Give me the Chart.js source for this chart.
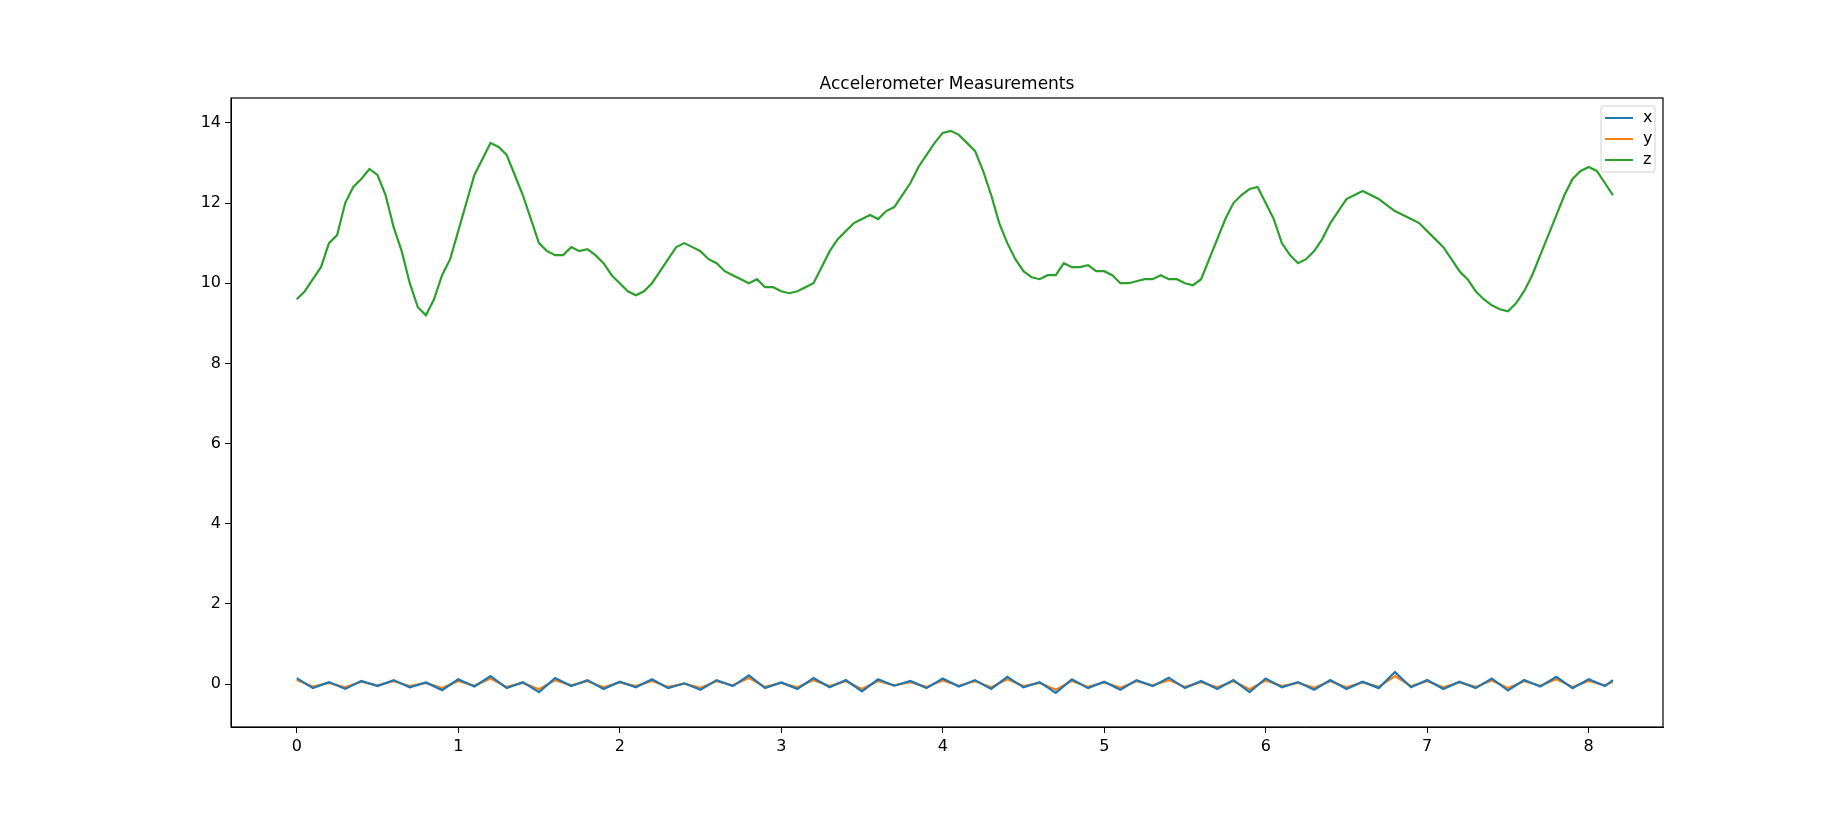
<!DOCTYPE html>
<html><head><meta charset="utf-8">
<script src="https://cdn.jsdelivr.net/npm/chart.js@4/dist/chart.umd.min.js"></script>
<style>html,body{margin:0;padding:0;background:#fff}#wrap{width:1848px;height:817px}</style>
</head><body><div id="wrap"><canvas id="c"></canvas></div>
<script>
const titleText = "Accelerometer Measurements";
const xTicks = [0,1,2,3,4,5,6,7,8];
const yTicks = [0,2,4,6,8,10,12,14];
const zTime = [];
const zValues = [9.6,9.8,10.1,10.4,11.0,11.2,12.0,12.4,12.6,12.85,12.7,12.2,11.4,10.8,10.0,9.4,9.2,9.6,10.2,10.6,
11.3,12.0,12.7,13.1,13.5,13.4,13.2,12.7,12.2,11.6,11.0,10.8,10.7,10.7,10.9,10.8,10.85,10.7,10.5,10.2,
10.0,9.8,9.7,9.8,10.0,10.3,10.6,10.9,11.0,10.9,10.8,10.6,10.5,10.3,10.2,10.1,10.0,10.1,9.9,9.9,
9.8,9.75,9.8,9.9,10.0,10.4,10.8,11.1,11.3,11.5,11.6,11.7,11.6,11.8,11.9,12.2,12.5,12.9,13.2,13.5,
13.75,13.8,13.7,13.5,13.3,12.8,12.2,11.5,11.0,10.6,10.3,10.15,10.1,10.2,10.2,10.5,10.4,10.4,10.45,10.3,
10.3,10.2,10.0,10.0,10.05,10.1,10.1,10.2,10.1,10.1,10.0,9.95,10.1,10.6,11.1,11.6,12.0,12.2,12.35,12.4,
12.0,11.6,11.0,10.7,10.5,10.6,10.8,11.1,11.5,11.8,12.1,12.2,12.3,12.2,12.1,11.95,11.8,11.7,11.6,11.5,
11.3,11.1,10.9,10.6,10.3,10.1,9.8,9.6,9.45,9.35,9.3,9.5,9.8,10.2,10.7,11.2,11.7,12.2,12.6,12.8,
12.9,12.8,12.5,12.2];
for (let i = 0; i < zValues.length; i++) zTime.push(+(i*0.05).toFixed(2));
const xyTime = [];
const xValues = [0.15,-0.1,0.05,-0.12,0.08,-0.05,0.1,-0.08,0.04,-0.15,0.12,-0.06,0.2,-0.1,0.05,-0.2,0.15,-0.05,0.1,-0.12,
0.06,-0.08,0.12,-0.1,0.02,-0.14,0.1,-0.05,0.22,-0.1,0.04,-0.12,0.15,-0.08,0.1,-0.18,0.12,-0.04,0.08,-0.1,
0.14,-0.06,0.1,-0.12,0.18,-0.08,0.05,-0.22,0.12,-0.1,0.06,-0.14,0.1,-0.05,0.16,-0.1,0.08,-0.12,0.1,-0.2,
0.14,-0.08,0.05,-0.14,0.1,-0.12,0.06,-0.1,0.3,-0.08,0.1,-0.12,0.06,-0.1,0.14,-0.16,0.1,-0.06,0.18,-0.1,
0.12,-0.05,0.1];
const yValues = [0.1,-0.06,0.03,-0.08,0.06,-0.03,0.07,-0.05,0.03,-0.1,0.08,-0.04,0.14,-0.07,0.03,-0.13,0.1,-0.03,0.07,-0.08,
0.04,-0.05,0.08,-0.07,0.01,-0.09,0.07,-0.03,0.15,-0.07,0.03,-0.08,0.1,-0.05,0.07,-0.12,0.08,-0.03,0.05,-0.07,
0.09,-0.04,0.07,-0.08,0.12,-0.05,0.03,-0.14,0.08,-0.07,0.04,-0.09,0.07,-0.03,0.1,-0.07,0.05,-0.08,0.07,-0.13,
0.09,-0.05,0.03,-0.09,0.07,-0.08,0.04,-0.07,0.2,-0.05,0.07,-0.08,0.04,-0.07,0.09,-0.1,0.07,-0.04,0.12,-0.07,
0.08,-0.03,0.06];
for (let i = 0; i < xValues.length; i++) xyTime.push(Math.min(8.15, +(i*0.1).toFixed(2)));
const seriesNames = ["x","y","z"];
const seriesColors = ["#1f77b4","#ff7f0e","#2ca02c"];

const pts = (t, v) => t.map((tt,i)=>({x:tt,y:v[i]}));
const F = "DejaVu Sans";

const framePlugin = {
  id:'frame',
  afterDraw(chart){
    const {ctx, chartArea:a} = chart;
    ctx.save();
    ctx.strokeStyle='#000'; ctx.lineWidth=1.2;
    ctx.strokeRect(a.left, a.top, a.right-a.left, a.bottom-a.top);
    ctx.fillStyle='#000'; ctx.font='17px "'+F+'"'; ctx.textAlign='center'; ctx.textBaseline='alphabetic';
    ctx.fillText(titleText,(a.left+a.right)/2, a.top-9);
    // legend
    const bx=a.right-62, by=a.top+8, bw=54, bh=66;
    ctx.font='16px "'+F+'"';
    ctx.fillStyle='rgba(255,255,255,0.8)'; ctx.strokeStyle='#d0d0d0'; ctx.lineWidth=1;
    ctx.beginPath(); ctx.roundRect(bx,by,bw,bh,3); ctx.fill(); ctx.stroke();
    seriesNames.forEach((n,i)=>{
      const yy=by+12+i*21;
      ctx.strokeStyle=seriesColors[i]; ctx.lineWidth=2;
      ctx.beginPath(); ctx.moveTo(bx+4,yy); ctx.lineTo(bx+32,yy); ctx.stroke();
      ctx.fillStyle='#000'; ctx.textAlign='left'; ctx.textBaseline='middle';
      ctx.fillText(n,bx+42,yy);
    });
    ctx.restore();
  }
};

new Chart(document.getElementById('c'), {
  type:'line',
  data:{datasets:[
    {label:seriesNames[0], data:pts(xyTime,xValues), borderColor:seriesColors[0], borderWidth:2.2, pointRadius:0, tension:0},
    {label:seriesNames[1], data:pts(xyTime,yValues), borderColor:seriesColors[1], borderWidth:2.2, pointRadius:0, tension:0},
    {label:seriesNames[2], data:pts(zTime,zValues), borderColor:seriesColors[2], borderWidth:2.2, pointRadius:0, tension:0}
  ]},
  options:{
    responsive:true, maintainAspectRatio:false, animation:false,
    layout:{padding:{left:171,right:185,top:98,bottom:40}},
    plugins:{legend:{display:false}, title:{display:false}, tooltip:{enabled:false}},
    scales:{
      x:{type:'linear', min:-0.407, max:8.46,
        afterBuildTicks(s){ s.ticks = xTicks.map(v=>({value:v})); },
        afterFit(s){ s.height=50; },
        grid:{drawOnChartArea:false, tickLength:6, color:'#000'},
        border:{color:'#000'},
        ticks:{color:'#000', font:{family:F,size:16}, padding:4, maxRotation:0, callback:v=>String(v)}},
      y:{type:'linear', min:-1.07, max:14.62,
        afterBuildTicks(s){ s.ticks = yTicks.map(v=>({value:v})); },
        afterFit(s){ s.width=60; },
        grid:{drawOnChartArea:false, tickLength:6, color:'#000'},
        border:{color:'#000'},
        ticks:{color:'#000', font:{family:F,size:16}, padding:4, callback:v=>String(v)}}
    }
  },
  plugins:[framePlugin]
});
</script></body></html>
